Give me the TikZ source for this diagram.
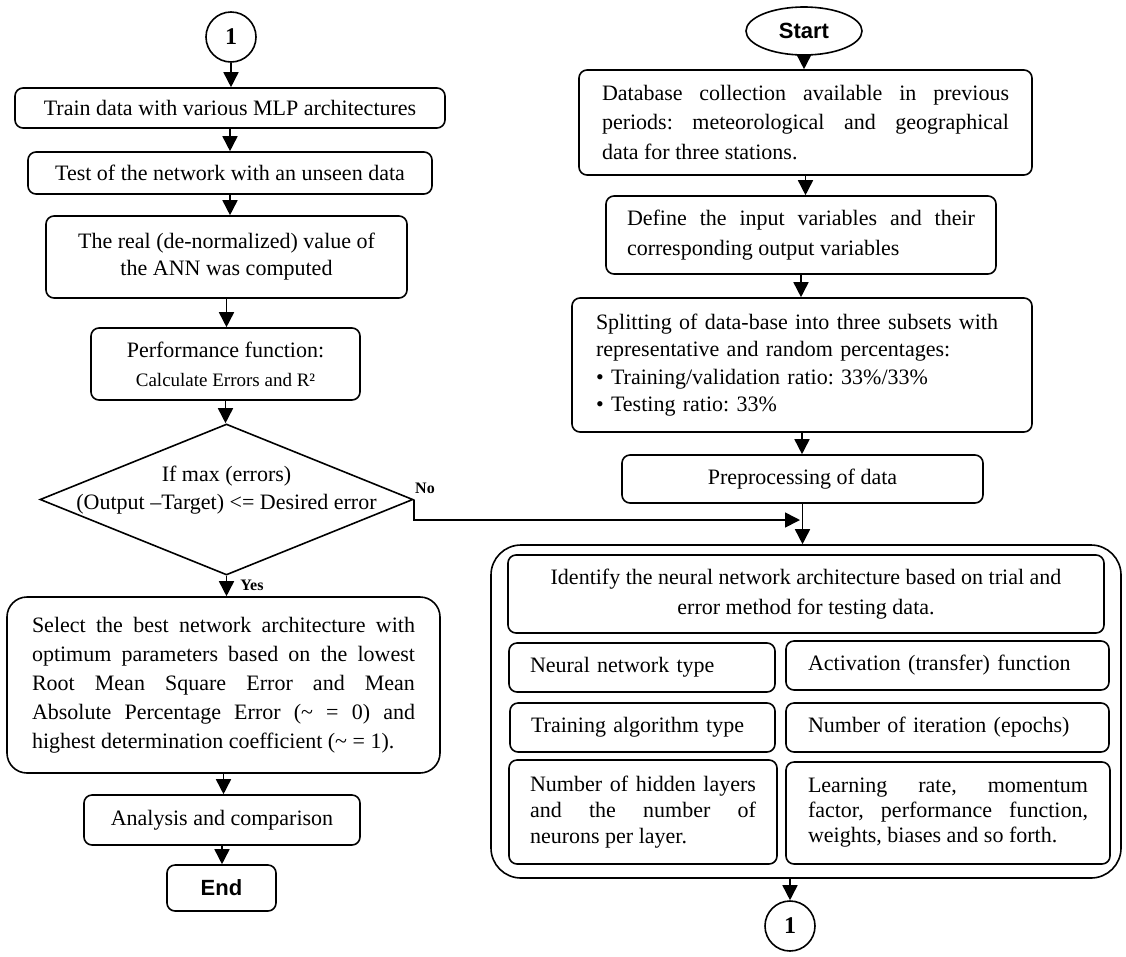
\documentclass[tikz,border=0pt]{standalone}
\usepackage{fontspec}
\setmainfont{Liberation Serif}
\newfontfamily\arialfont{Liberation Sans}
\usetikzlibrary{arrows.meta,shapes.geometric}
\newcommand\bodyfs{\fontsize{22}{29}\selectfont}
\newcommand\smallfs{\fontsize{19}{25}\selectfont}
\newcommand\labfs{\fontsize{16}{18}\selectfont\bfseries}
\hyphenpenalty=10000
\exhyphenpenalty=10000
\tolerance=9999
\frenchspacing
\begin{document}
\frenchspacing
\begin{tikzpicture}[x=1pt,y=-1pt,
 box/.style={draw, line width=1.6pt, rounded corners=8pt, inner sep=0pt, font=\bodyfs, align=center},
 jbox/.style={box, align=justify},
 arr/.style={-{Triangle[length=15pt,width=15pt]}, line width=1.6pt},
 conn/.style={draw, circle, line width=1.6pt, minimum size=50pt, inner sep=0pt, font=\fontsize{24}{28}\selectfont\bfseries},
 lab/.style={font=\labfs, inner sep=0pt}]
\useasboundingbox[fill=white] (0,0) rectangle (1126,956);

% left column
\node[conn] (c1) at (231,37) {1};
\node[box, minimum width=430pt, minimum height=40pt] (b1) at (230,108) {Train data with various MLP architectures};
\node[box, minimum width=404pt, minimum height=42pt] (b2) at (230,173) {Test of the network with an unseen data};
\node[box, minimum width=361pt, minimum height=82pt, font=\fontsize{22}{27}\selectfont] (b3) at (226.5,257) {The real (de-normalized) value of\\the ANN was computed};
\node[box, minimum width=269pt, minimum height=72pt] (b4) at (225.5,364) {Performance function:\\{\smallfs Calculate Errors and R²}};
\node[draw, diamond, line width=1.6pt, minimum width=373pt, minimum height=151pt, inner sep=0pt] (dia) at (226.5,499.5) {};
\node[font=\fontsize{22}{28}\selectfont, align=center, inner sep=0pt] (diat) at (226.5,490) {If max (errors)\\(Output –Target) <= Desired error};
\node[jbox, rounded corners=20pt, minimum width=433pt, minimum height=176pt, text width=383pt] (sel) at (223.5,685) {Select the best network architecture with\linebreak optimum parameters based on the lowest\linebreak Root Mean Square Error and Mean\linebreak Absolute Percentage Error (\textasciitilde{} = 0) and\linebreak highest determination coefficient (\textasciitilde{} = 1).};
\node[box, minimum width=276pt, minimum height=50pt] (ana) at (222,820) {Analysis and comparison};
\node[box, minimum width=109pt, minimum height=46pt, font=\arialfont\bfseries\fontsize{22}{26}\selectfont] (end) at (221.5,888) {End};

% right column
\node[draw, ellipse, line width=1.6pt, minimum width=116pt, minimum height=48pt, inner sep=0pt, font=\arialfont\bfseries\fontsize{22}{26}\selectfont] (start) at (804,31) {Start};
\node[jbox, minimum width=453pt, minimum height=105pt, text width=407pt, font=\fontsize{22}{29.5}\selectfont] (db) at (805.5,122.5) {Database collection available in previous\linebreak periods: meteorological and geographical\linebreak data for three stations.};
\node[jbox, minimum width=390pt, minimum height=78pt, text width=348pt, font=\fontsize{22}{30}\selectfont] (def) at (801,235) {Define the input variables and their\linebreak corresponding output variables};
\node[box, align=left, minimum width=460pt, minimum height=134pt, text width=412pt, font=\fontsize{22}{27.5}\selectfont] (spl) at (802,365) {Splitting of data-base into three subsets with\\representative and random percentages:\\• Training/validation ratio: 33\%/33\%\\• Testing ratio: 33\%};
\node[box, minimum width=361pt, minimum height=48pt] (pre) at (802.5,479) {Preprocessing of data};
\node[draw, line width=1.6pt, rounded corners=30pt, minimum width=630pt, minimum height=333pt, inner sep=0pt] (big) at (806,711.5) {};
\node[box, minimum width=596pt, minimum height=78pt, font=\fontsize{22}{30}\selectfont] (idn) at (806,594) {Identify the neural network architecture based on trial and\\error method for testing data.};
\node[box, align=left, minimum width=266pt, minimum height=49pt, text width=224pt] (r1l) at (642,667.5) {Neural network type};
\node[box, align=left, minimum width=323pt, minimum height=49pt, text width=279pt] (r1r) at (947.5,665.5) {Activation (transfer) function};
\node[box, align=left, minimum width=265pt, minimum height=49pt, text width=223pt] (r2l) at (642.5,727.5) {Training algorithm type};
\node[box, align=left, minimum width=323pt, minimum height=49pt, text width=279pt] (r2r) at (947.5,727.5) {Number of iteration (epochs)};
\node[jbox, minimum width=268pt, minimum height=104pt, text width=226pt, font=\fontsize{22}{26}\selectfont] (r3l) at (643,812) {Number of hidden layers\linebreak and the number of\linebreak neurons per layer.};
\node[jbox, minimum width=324pt, minimum height=102pt, text width=280pt, font=\fontsize{22}{25}\selectfont] (r3r) at (948,813) {Learning rate, momentum\linebreak factor, performance function,\linebreak weights, biases and so forth.};
\node[conn] (c2) at (790,926) {1};

% connectors left
\draw[arr] (c1.south) -- (c1.south |- b1.north);
\draw[arr] (b1.south) -- (b1.south |- b2.north);
\draw[arr] (b2.south) -- (b2.south |- b3.north);
\draw[arr] (b3.south) -- (b3.south |- b4.north);
\draw[arr] (b4.south) -- (b4.south |- dia.north);
\draw[arr] (dia.south) -- (dia.south |- sel.north);
\draw[arr] (sel.south) -- (sel.south |- ana.north);
\draw[arr] (ana.south) -- (ana.south |- end.north);
\coordinate (m) at (800,520);
\draw[arr] (dia.east) |- (m);
\node[lab] (no) at (425,488) {No};
\node[lab] (yes) at (252,585) {Yes};

% connectors right
\draw[arr] (start.south) -- (start.south |- db.north);
\draw[arr] (db.south) -- (db.south |- def.north);
\draw[arr] (def.south) -- (def.south |- spl.north);
\draw[arr] (spl.south) -- (spl.south |- pre.north);
\draw[arr] (pre.south) -- (pre.south |- big.north);
\draw[arr] (c2.north |- big.south) -- (c2.north);
\end{tikzpicture}
\end{document}
